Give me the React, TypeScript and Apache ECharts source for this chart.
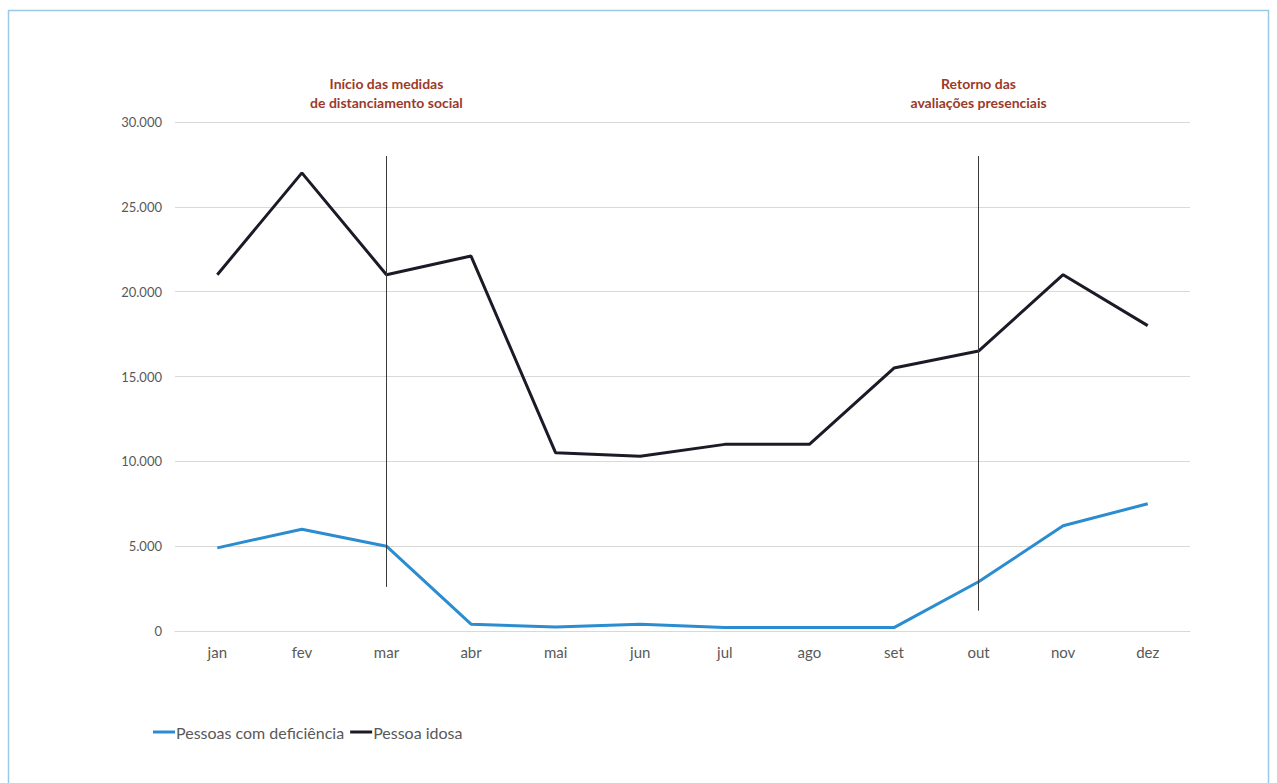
import React, { useEffect, useRef } from "react";
import * as echarts from "echarts";

const months = ["jan", "fev", "mar", "abr", "mai", "jun", "jul", "ago", "set", "out", "nov", "dez"];
const deficiencia = [4900, 6000, 5000, 400, 230, 400, 200, 200, 200, 2900, 6200, 7500];
const idosa = [21000, 27000, 21000, 22100, 10500, 10300, 11000, 11000, 15500, 16500, 21000, 18000];
const yTicks = [0, 5000, 10000, 15000, 20000, 25000, 30000];
const annotations = [
  { month: "mar", from: 2600, to: 28000, text: "Início das medidas\nde distanciamento social" },
  { month: "out", from: 1200, to: 28000, text: "Retorno das\navaliações presenciais" },
];

const FONT = "Lato, 'Open Sans', sans-serif";

export default function App() {
  const ref = useRef<HTMLDivElement>(null);
  useEffect(() => {
    document.body.style.margin = "0";
    const chart = echarts.init(ref.current!, undefined, { renderer: "svg" });
    chart.setOption({
      animation: false,
      backgroundColor: "#ffffff",
      textStyle: { fontFamily: FONT },
      graphic: [
        {
          type: "rect",
          shape: { x: 8.5, y: 10.5, width: 1260, height: 820 },
          style: { fill: "none", stroke: "#9cc8e8", lineWidth: 1.5 },
          silent: true,
        },
      ],
      grid: { left: 175, right: 87, top: 122, bottom: 152 },
      legend: {
        left: 148,
        top: 719,
        icon: "rect",
        itemWidth: 22,
        itemHeight: 3,
        itemGap: 6,
        textStyle: { color: "#595959", fontSize: 16, fontFamily: FONT, padding: [0, 0, 0, -4] },
        data: ["Pessoas com deficiência", "Pessoa idosa"],
      },
      xAxis: {
        type: "category",
        data: months,
        boundaryGap: true,
        axisLine: { show: true, lineStyle: { color: "#d9d9d9" } },
        axisTick: { show: false },
        axisLabel: { color: "#595959", fontSize: 15, margin: 13, fontFamily: FONT },
      },
      yAxis: {
        type: "value",
        min: yTicks[0],
        max: yTicks[yTicks.length - 1],
        interval: 5000,
        axisLine: { show: false },
        axisTick: { show: false },
        splitLine: { lineStyle: { color: "#d9d9d9" } },
        axisLabel: {
          color: "#595959",
          fontSize: 13,
          margin: 13,
          fontFamily: FONT,
          formatter: (v: number) => v.toLocaleString("de-DE"),
        },
      },
      series: [
        {
          name: "Pessoas com deficiência",
          type: "line",
          data: deficiencia,
          symbol: "none",
          lineStyle: { color: "#2b8cd0", width: 3 },
          itemStyle: { color: "#2b8cd0" },
          z: 3,
        },
        {
          name: "Pessoa idosa",
          type: "line",
          data: idosa,
          symbol: "none",
          lineStyle: { color: "#1b1b28", width: 3 },
          itemStyle: { color: "#1b1b28" },
          z: 3,
          markLine: {
            silent: true,
            symbol: "none",
            lineStyle: { color: "#3a3a3a", width: 1, type: "solid" },
            label: {
              show: true,
              position: "end",
              distance: 44,
              color: "#9b3a2a",
              fontWeight: "bold",
              fontSize: 14,
              lineHeight: 19,
              fontFamily: FONT,
              align: "center",
            },
            data: annotations.map((a) => [
              { coord: [a.month, a.from] },
              { coord: [a.month, a.to], label: { formatter: a.text } },
            ]),
          },
        },
      ],
    });
    return () => chart.dispose();
  }, []);
  return <div ref={ref} style={{ position: "fixed", left: 0, top: 0, width: 1277, height: 783 }} />;
}
